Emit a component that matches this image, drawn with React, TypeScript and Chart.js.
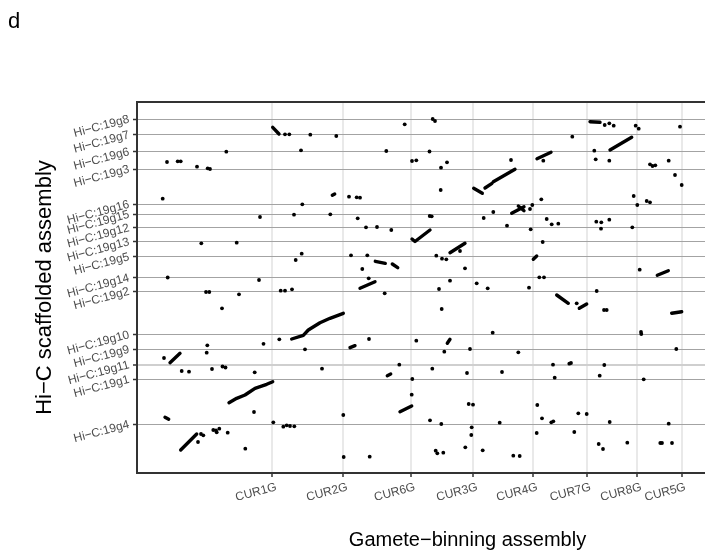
import { useEffect, useRef } from "react";
import { Chart, registerables } from "chart.js";

Chart.register(...registerables);

// Axis ticks (positions in Mb along the concatenated assemblies)
const X_TICK_LABELS = ["CUR1G", "CUR2G", "CUR6G", "CUR3G", "CUR4G", "CUR7G", "CUR8G", "CUR5G"];
const X_TICK_POS = [13.53, 20.63, 27.4, 33.63, 39.63, 44.97, 50.03, 54.45];

const Y_TICK_LABELS = [
  "Hi−C:19g8", "Hi−C:19g7", "Hi−C:19g6", "Hi−C:19g3", "Hi−C:19g16", "Hi−C:19g15",
  "Hi−C:19g12", "Hi−C:19g13", "Hi−C:19g5", "Hi−C:19g14", "Hi−C:19g2", "Hi−C:19g10",
  "Hi−C:19g9", "Hi−C:19g11", "Hi−C:19g1", "Hi−C:19g4",
];
const Y_TICK_POS = [
  35.4, 33.83, 32.13, 30.4, 26.87, 25.87, 24.53, 23.13, 21.63, 19.53, 18.17, 13.83,
  12.37, 10.83, 9.37, 4.87,
];

const X_MIN = 0;
const X_MAX = 66.1;
const Y_MIN = 0;
const Y_MAX = 37.1;

// Single short alignment hits (x: gamete-binning Mb, y: Hi-C Mb)
const DOTS: [number, number][] = [
  [19.93, 33.7], [17.33, 33.83], [14.8, 33.87], [15.23, 33.87], [26.77, 34.87], [29.57, 35.4], [29.8, 35.2],
  [16.4, 32.27], [24.93, 32.2], [29.25, 32.15], [3.0, 31.1], [4.07, 31.17], [4.37, 31.17], [6.0, 30.63],
  [7.07, 30.47], [7.3, 30.4], [8.93, 32.13], [27.5, 31.2], [27.93, 31.27],
  [2.57, 27.43], [21.2, 27.63], [21.97, 27.57], [22.3, 27.53], [16.53, 26.87], [12.3, 25.6], [15.7, 25.83],
  [19.33, 25.87], [22.07, 25.47], [29.27, 25.7], [29.47, 25.67],
  [22.9, 24.57], [24.0, 24.6], [25.43, 24.3], [6.43, 22.97], [9.97, 23.03], [16.47, 21.93], [15.87, 21.3],
  [21.4, 21.77], [23.03, 21.77], [22.53, 20.4], [3.07, 19.55], [12.2, 19.3], [23.17, 19.47],
  [30.4, 30.53], [31.0, 31.07], [30.37, 28.3], [37.4, 31.3], [40.63, 31.23], [43.53, 33.63],
  [46.77, 34.8], [47.23, 34.97], [47.67, 34.73], [45.73, 32.23], [45.87, 31.37], [47.23, 31.23],
  [49.87, 34.73], [50.17, 34.43], [54.3, 34.63],
  [51.3, 30.87], [51.55, 30.7], [51.83, 30.77], [53.17, 31.23], [53.8, 29.8], [54.47, 28.8],
  [40.43, 27.37], [39.53, 26.8], [39.3, 26.4], [35.63, 26.1], [34.67, 25.5], [37.0, 24.73], [39.37, 24.37],
  [40.97, 25.4], [41.47, 24.87], [42.13, 24.93],
  [45.93, 25.13], [46.43, 25.07], [47.23, 25.33], [46.4, 24.43], [49.67, 27.7], [50.03, 26.8], [50.97, 27.2],
  [51.3, 27.07], [49.53, 24.57],
  [29.93, 21.73], [30.5, 21.43], [30.93, 21.37], [32.3, 22.2], [32.8, 20.47], [40.57, 23.1], [40.23, 19.57],
  [40.7, 19.57], [31.3, 19.23], [50.27, 20.33],
  [14.37, 18.23], [14.8, 18.23], [15.5, 18.37], [6.9, 18.1], [7.23, 18.1], [10.2, 17.87], [8.5, 16.47], [24.77, 17.97],
  [14.23, 13.37], [12.65, 12.92], [7.03, 12.77], [6.97, 12.03], [16.8, 12.37], [23.2, 13.4], [27.93, 13.23],
  [2.7, 11.5], [4.47, 10.2], [5.2, 10.13], [7.5, 10.4], [8.55, 10.65], [8.85, 10.55], [11.77, 10.07],
  [18.5, 10.43], [26.23, 10.83], [27.53, 9.4],
  [11.7, 6.1], [13.63, 5.07], [14.63, 4.63], [14.97, 4.77], [15.3, 4.7], [15.73, 4.67], [20.63, 5.8],
  [27.47, 7.83], [29.3, 5.27],
  [6.1, 3.1], [6.4, 3.9], [6.63, 3.77], [7.63, 4.3], [7.9, 4.25], [8.23, 4.43], [7.97, 4.07], [9.07, 4.03],
  [10.83, 2.43], [20.67, 1.6], [23.27, 1.63],
  [33.97, 18.97], [35.07, 18.47], [39.2, 18.53], [30.2, 18.4], [45.97, 18.2], [43.97, 16.97], [46.7, 16.3],
  [46.97, 16.3], [30.47, 16.4],
  [35.57, 14.03], [50.4, 14.1], [50.43, 13.9], [30.73, 12.13], [33.3, 12.4], [38.13, 12.07], [53.93, 12.4],
  [29.53, 10.43], [41.6, 10.83], [43.23, 10.93], [43.4, 11.0], [46.73, 10.8], [33.0, 10.0], [36.5, 10.1],
  [41.77, 9.53], [46.27, 9.73], [50.67, 9.37],
  [33.17, 6.9], [33.6, 6.83], [40.03, 6.8], [40.5, 5.47], [44.13, 5.97], [44.97, 5.9], [30.43, 4.9],
  [36.27, 5.03], [41.43, 5.07], [41.63, 5.17], [47.27, 5.1], [53.17, 4.93],
  [33.47, 4.57], [33.43, 3.8], [39.97, 4.0], [43.73, 4.1],
  [29.87, 2.23], [30.03, 1.97], [30.63, 2.03], [32.83, 2.57], [34.57, 2.27], [37.63, 1.73], [38.27, 1.7],
  [46.17, 2.9], [46.6, 2.4], [49.03, 3.03], [52.33, 3.0], [52.5, 3.0], [53.5, 3.0],
];

// Collinear alignment blocks (start ... end vertices)
const SEGMENTS: [number, number][][] = [
  [[13.57, 34.57], [14.2, 33.9]],
  [[19.53, 27.77], [19.77, 27.9]],
  [[27.5, 23.4], [27.8, 23.15], [29.3, 24.3]],
  [[23.83, 21.17], [24.83, 20.97]],
  [[25.53, 20.9], [26.07, 20.53]],
  [[33.67, 28.47], [34.53, 27.97]],
  [[34.8, 28.5], [35.5, 28.97]],
  [[35.63, 29.13], [37.8, 30.37]],
  [[40.0, 31.43], [41.4, 32.07]],
  [[47.3, 32.3], [49.47, 33.57]],
  [[37.47, 25.97], [38.7, 26.63]],
  [[38.13, 26.7], [38.7, 26.23]],
  [[31.3, 22.03], [32.8, 22.97]],
  [[39.63, 21.37], [39.97, 21.7]],
  [[52.03, 19.77], [53.13, 20.23]],
  [[22.3, 18.47], [23.8, 19.13]],
  [[15.47, 13.4], [16.63, 13.77], [17.13, 14.3], [18.3, 15.03], [19.3, 15.47], [20.63, 15.97]],
  [[21.3, 12.53], [21.8, 12.73]],
  [[3.3, 11.03], [4.3, 11.97]],
  [[25.03, 9.73], [25.37, 9.9]],
  [[9.2, 7.03], [9.97, 7.47], [10.8, 7.8], [11.8, 8.47], [12.97, 8.87], [13.57, 9.13]],
  [[26.3, 6.13], [27.47, 6.7]],
  [[4.37, 2.3], [5.97, 3.9]],
  [[41.97, 17.8], [43.13, 16.97]],
  [[44.23, 16.47], [44.97, 16.9]],
  [[53.47, 15.97], [54.47, 16.13]],
  [[31.03, 12.97], [31.3, 13.37]],
  [[45.3, 35.13], [46.3, 35.07]],
  [[2.8, 5.57], [3.17, 5.37]],
];

const FONT = "'Liberation Sans', Arial, Helvetica, sans-serif";
const LIGHT_LINE_LABEL = "Hi−C:19g11";

export default function App() {
  const ref = useRef<HTMLCanvasElement>(null);

  useEffect(() => {
    if (!ref.current) return;
    const segData: { x: number; y: number }[] = [];
    SEGMENTS.forEach((seg, i) => {
      if (i > 0) segData.push({ x: NaN, y: NaN });
      seg.forEach(([x, y]) => segData.push({ x, y }));
    });
    const dotData = DOTS.map(([x, y]) => ({ x, y }));

    const decor = {
      id: "decor",
      afterDraw(chart: any) {
        const { ctx, chartArea } = chart;
        ctx.save();
        ctx.strokeStyle = "#333333";
        ctx.lineWidth = 2;
        ctx.beginPath();
        ctx.moveTo(chartArea.left - 1, chartArea.top);
        ctx.lineTo(chartArea.right, chartArea.top);
        ctx.stroke();
        ctx.fillStyle = "#000";
        ctx.font = `22px ${FONT}`;
        ctx.textBaseline = "alphabetic";
        ctx.textAlign = "left";
        ctx.fillText("d", 8, 28);
        ctx.restore();
      },
    };

    const chart = new Chart(ref.current, {
      type: "scatter",
      data: {
        datasets: [
          {
            data: segData,
            showLine: true,
            spanGaps: false,
            borderColor: "#000",
            borderWidth: 3.4,
            borderCapStyle: "round",
            borderJoinStyle: "round",
            pointRadius: 0,
            pointHoverRadius: 0,
          },
          {
            data: dotData,
            pointRadius: 1.9,
            pointBackgroundColor: "#000",
            pointBorderWidth: 0,
            pointHoverRadius: 1.9,
          },
        ],
      },
      options: {
        responsive: false,
        animation: false,
        devicePixelRatio: 1,
        layout: { padding: { top: 102, right: 2, left: 0, bottom: 0 } },
        plugins: { legend: { display: false }, tooltip: { enabled: false } },
        events: [],
        scales: {
          x: {
            type: "linear",
            min: X_MIN,
            max: X_MAX,
            afterBuildTicks: (scale: any) => {
              scale.ticks = X_TICK_POS.map((v) => ({ value: v }));
            },
            afterFit: (scale: any) => {
              scale.height = 81;
            },
            ticks: {
              autoSkip: false,
              minRotation: 15,
              maxRotation: 15,
              padding: 3,
              labelOffset: 4,
              color: "#4d4d4d",
              font: { family: FONT, size: 12 },
              callback: (_v: any, i: number) => X_TICK_LABELS[i],
            },
            grid: {
              color: "#e9e9e9",
              lineWidth: 2,
              drawTicks: true,
              tickLength: 4,
              tickColor: "#333333",
              tickWidth: 1.5,
            },
            border: { display: true, color: "#333333", width: 2 },
            title: {
              display: true,
              text: "Gamete−binning assembly",
              color: "#000",
              font: { family: FONT, size: 20 },
              padding: { top: 0, bottom: 2 },
            },
          },
          y: {
            type: "linear",
            min: Y_MIN,
            max: Y_MAX,
            afterBuildTicks: (scale: any) => {
              scale.ticks = Y_TICK_POS.map((v) => ({ value: v }));
            },
            afterFit: (scale: any) => {
              scale.width = 137;
            },
            ticks: {
              autoSkip: false,
              minRotation: 15,
              maxRotation: 15,
              padding: 4,
              color: "#4d4d4d",
              font: { family: FONT, size: 12 },
              callback: (_v: any, i: number) => Y_TICK_LABELS[i],
            },
            grid: {
              color: (c: any) => (Y_TICK_LABELS[c.index] === LIGHT_LINE_LABEL ? "#cfcfcf" : "#a3a3a3"),
              lineWidth: (c: any) => (Y_TICK_LABELS[c.index] === LIGHT_LINE_LABEL ? 2 : 1),
              drawTicks: true,
              tickLength: 4,
              tickColor: "#333333",
              tickWidth: 1.5,
            },
            border: { display: true, color: "#333333", width: 2 },
            title: {
              display: true,
              text: "Hi−C scaffolded assembly",
              color: "#000",
              font: { family: FONT, size: 22 },
              padding: { top: 32, bottom: 0 },
            },
          },
        },
      },
      plugins: [decor],
    } as any);

    return () => chart.destroy();
  }, []);

  return (
    <div
      style={{
        position: "absolute",
        left: 0,
        top: 0,
        width: 705,
        height: 554,
        overflow: "hidden",
        background: "#fff",
      }}
    >
      <canvas ref={ref} width={800} height={554} style={{ display: "block", width: 800, height: 554 }} />
    </div>
  );
}
